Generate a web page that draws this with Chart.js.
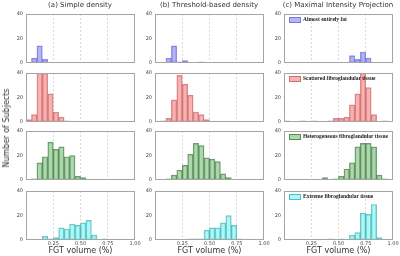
<!DOCTYPE html>
<html><head><meta charset="utf-8">
<script src="https://cdn.jsdelivr.net/npm/chart.js@4"></script>
<style>
html,body{margin:0;padding:0;background:#fff;width:400px;height:256px;overflow:hidden;position:relative;font-family:"DejaVu Sans",sans-serif;}
canvas{position:absolute;}
.t{position:absolute;white-space:nowrap;color:#333;line-height:1;}
.lg{position:absolute;white-space:nowrap;font-family:"Liberation Serif",serif;font-size:5.5px;color:#222;line-height:1;font-weight:bold;}
.sw{display:inline-block;width:10px;height:3.5px;vertical-align:middle;margin-right:2px;}
</style></head><body>
<script>
// ---- data ----
const binStarts = [0,0.05,0.10,0.15,0.20,0.25,0.30,0.35,0.40,0.45,0.50,0.55,0.60,0.65,0.70,0.75,0.80,0.85,0.90,0.95];
const binWidth = 0.05;
const columnTitles = ['(a) Simple density','(b) Threshold-based density','(c) Maximal Intensity Projection'];
const tissueNames = ['Almost entirely fat','Scattered fibroglandular tissue','Heterogeneous fibroglandular tissue','Extreme fibroglandular tissue'];
const xTickValues = [0.25,0.50,0.75,1.00];
const yTickValues = [0,20,40];
const xAxisTitle = 'FGT volume (%)';
const yAxisTitle = 'Number of Subjects';

// counts per 0.05 bin
const simpleFat       = [0,4,14,3,0,0,0,0,0,0,0,0,0,0,0,0,0,0,0,0];
const simpleScattered = [2,6,40,40,23,8,4,1,0,0,0,0,0,0,0,0,0,0,0,0];
const simpleHetero    = [0,1,14,19,31,25,27,19,20,3,2,0,0,0,0,0,0,0,0,0];
const simpleExtreme   = [0,0,0,3,1,2,10,9,13,12,14,16,4,0,1,0,0,0,0,0];

const threshFat       = [0,0,4,14,1,2,0,0,1,0,0,0,0,0,0,0,0,0,0,0];
const threshScattered = [0,1,3,18,38,31,22,8,6,2,0,0,0,0,0,0,0,0,0,0];
const threshHetero    = [0,0,1,4,8,12,21,30,28,18,17,15,5,2,0,0,0,0,0,0];
const threshExtreme   = [0,0,0,0,0,0,1,1,1,8,10,10,14,20,12,1,0,0,0,0];

const mipFat          = [0,0,0,0,0,0,0,0,0,0,0,0,6,3,9,4,0,0,0,0];
const mipScattered    = [1,0,0,1,0,1,0,0,1,3,3,4,14,23,40,28,6,0,1,0];
const mipHetero       = [0,0,0,0,0,0,0,2,0,1,3,9,14,27,30,30,27,4,1,0];
const mipExtreme      = [0,0,0,0,0,0,0,0,1,0,1,0,4,6,22,21,29,2,0,0];

const grid = [
  [simpleFat, threshFat, mipFat],
  [simpleScattered, threshScattered, mipScattered],
  [simpleHetero, threshHetero, mipHetero],
  [simpleExtreme, threshExtreme, mipExtreme]
];

// ---- styles / layout ----
const fills   = ['rgba(90,90,235,0.45)','rgba(245,100,100,0.5)','rgba(95,175,95,0.5)','rgba(70,240,240,0.45)'];
const borders = ['rgba(70,70,200,0.55)','rgba(170,60,60,0.55)','rgba(40,100,40,0.65)','rgba(30,150,150,0.6)'];
const colLeft = [26,155,284];
const rowTop = [14,73,131,191];
const plotW = 109, plotH = 49;
const padL = 16, padT = 5, padR = 12;

const framePlugin = {
  id:'frame',
  afterDraw(chart){
    const a = chart.chartArea, c = chart.ctx;
    c.save(); c.strokeStyle='#a5a5a5'; c.lineWidth=1;
    c.strokeRect(Math.round(a.left)+0.5, Math.round(a.top)+0.5, Math.round(a.right-a.left)-1, Math.round(a.bottom-a.top)-1);
    c.restore();
  }
};

function addText(txt, x, y, size, extra){
  const d = document.createElement('div');
  d.className='t'; d.textContent=txt;
  d.style.left=x+'px'; d.style.top=y+'px'; d.style.fontSize=size+'px';
  if(extra) Object.assign(d.style, extra);
  document.body.appendChild(d); return d;
}

for(let r=0;r<4;r++){
  for(let c=0;c<3;c++){
    const bottom = r===3;
    const xh = bottom?8:2;
    const cv = document.createElement('canvas');
    const W = plotW+padL+padR, H = plotH+padT+xh;
    cv.width=W; cv.height=H;
    cv.style.left=(colLeft[c]-padL)+'px'; cv.style.top=(rowTop[r]-padT)+'px';
    cv.style.width=W+'px'; cv.style.height=H+'px';
    document.body.appendChild(cv);
    const counts = grid[r][c];
    new Chart(cv,{
      type:'bar',
      data:{datasets:[{
        data: binStarts.map((b,i)=>({x:b+binWidth/2, y:counts[i]})),
        backgroundColor: fills[r],
        borderColor: borders[r],
        borderWidth: ctx => (ctx.raw && ctx.raw.y>0) ? 0.8 : 0,
        barPercentage:1, categoryPercentage:1, borderSkipped:false
      }]},
      plugins:[framePlugin],
      options:{
        responsive:false, animation:false, devicePixelRatio:1,
        layout:{padding:{left:0,top:padT,right:padR,bottom:0}},
        plugins:{legend:{display:false},tooltip:{enabled:false}},
        scales:{
          x:{type:'linear',min:0,max:1,offset:false,
            afterBuildTicks:s=>{s.ticks=[0].concat(xTickValues).map(v=>({value:v}));},
            afterFit:s=>{s.height=xh;s.paddingLeft=0;s.paddingRight=0;},
            grid:{offset:false,drawTicks:false,color:ctx=>(ctx.tick && ctx.tick.value>0.01 && ctx.tick.value<0.99)?'#d9d9d9':'rgba(0,0,0,0)',lineWidth:1},
            border:{display:false,dash:[2,2]},
            ticks:{display:bottom,padding:1,maxRotation:0,autoSkip:false,color:'#444',font:{size:5,family:'DejaVu Sans'},
              callback:v=>v===0?'':Number(v).toFixed(2)}
          },
          y:{min:0,max:40,
            afterBuildTicks:s=>{s.ticks=yTickValues.map(v=>({value:v}));},
            afterFit:s=>{s.width=padL;s.paddingTop=0;s.paddingBottom=0;},
            grid:{display:false,drawTicks:false},
            border:{display:false},
            ticks:{padding:3,color:'#444',font:{size:5,family:'DejaVu Sans'}}
          }
        }
      }
    });
    if(c===2){
      const lg = document.createElement('div');
      lg.className='lg';
      lg.style.left=(colLeft[c]+5)+'px'; lg.style.top=(rowTop[r]+3)+'px';
      const sw = document.createElement('span'); sw.className='sw';
      sw.style.background=fills[r]; sw.style.border='0.5px solid '+borders[r];
      lg.appendChild(sw);
      lg.appendChild(document.createTextNode(tissueNames[r]));
      document.body.appendChild(lg);
    }
  }
}
// column titles
const titleCenters = [80,209,338];
columnTitles.forEach((t,i)=>{
  const d = addText(t, titleCenters[i], 2, 7);
  d.style.transform='translateX(-50%)';
});
// x axis titles
colLeft.forEach(l=>{
  const d = addText(xAxisTitle, l+plotW/2, 247, 8);
  d.style.transform='translateX(-50%)';
});
// y axis title
const yt = addText(yAxisTitle, 7, 128, 8);
yt.style.transform='translate(-50%,-50%) rotate(-90deg)';
</script>
</body></html>
